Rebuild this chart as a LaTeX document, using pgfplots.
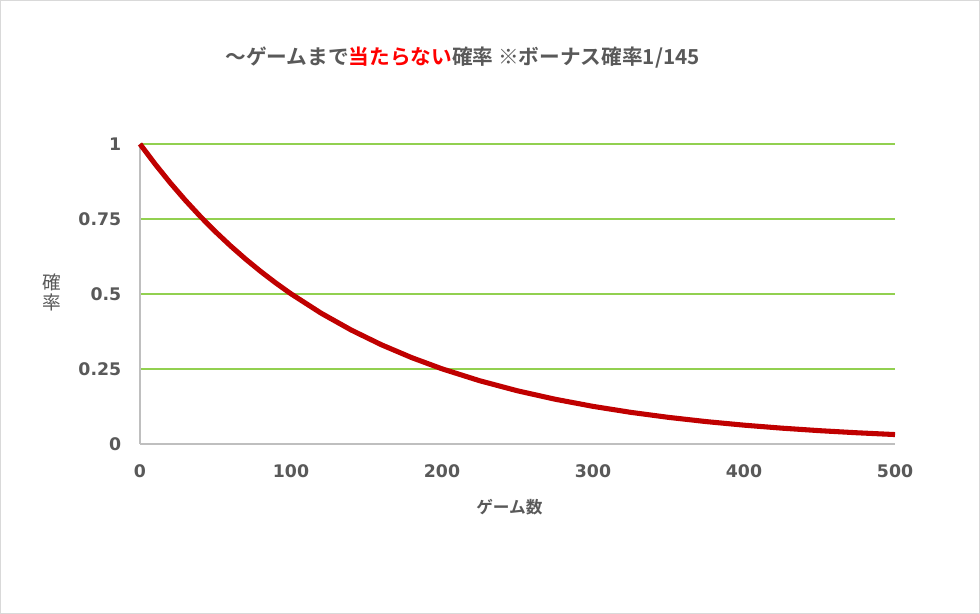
\documentclass[border=0pt]{standalone}
\usepackage{pgfplots}
\pgfplotsset{compat=1.18}
\usepackage{fontspec}
\setmainfont{DejaVu Sans}
\newfontfamily\jp{Noto Sans CJK JP}
\newfontfamily\jpb{Noto Sans CJK JP Bold}
\definecolor{txtgrey}{HTML}{595959}
\definecolor{gridgreen}{HTML}{92D050}
\definecolor{axgrey}{HTML}{BFBFBF}
\definecolor{curvered}{HTML}{C00000}
\definecolor{framegrey}{HTML}{D9D9D9}
\definecolor{hlred}{HTML}{FF0000}
\begin{document}
\begin{tikzpicture}[x=1pt,y=1pt]
\draw[framegrey,line width=0.75pt,fill=white] (0.4,0.4) rectangle (734.6,460.1);
\node[text=txtgrey,font=\jpb\fontsize{15.5}{18}\selectfont] at (347,417) {～ゲームまで\textcolor{hlred}{当たらない}確率 ※ボーナス確率1/145};
\begin{axis}[
  at={(105pt,127.5pt)}, anchor=origin,
  scale only axis, width=566.25pt, height=225pt,
  xmin=0, xmax=500, ymin=0, ymax=1,
  xtick={0,100,200,300,400,500},
  ytick={0,0.25,0.5,0.75,1},
  yticklabels={0,0.25,0.5,0.75,1},
  axis x line*=bottom, axis y line*=left,
  axis line style={axgrey,line width=1.2pt,-},
  xtick style={draw=none}, ytick style={draw=none},
  ymajorgrids, major grid style={gridgreen,line width=0.9pt},
  tick label style={text=txtgrey,font=\bfseries\fontsize{13}{15}\selectfont},
  /pgf/number format/assume math mode=true,
  xticklabel style={yshift=-12pt},
  yticklabel style={xshift=-10.5pt},
  clip=false,
]
\addplot[curvered, line width=3.8pt, line join=round, line cap=butt] coordinates {
(0,1) (10,0.93313) (20,0.87074) (30,0.81251) (40,0.75817) (50,0.70749)
(60,0.66020) (70,0.61605) (80,0.57486) (90,0.53643) (100,0.50055)
(120,0.43585) (140,0.37953) (160,0.33046) (180,0.28775) (200,0.25056)
(225,0.21077) (250,0.17727) (275,0.14911) (300,0.12542) (325,0.10549)
(350,0.08874) (375,0.07464) (400,0.06278) (425,0.05281) (450,0.04442)
(475,0.03736) (500,0.03143)
};
\end{axis}
\node[text=txtgrey,font=\jp\fontsize{14}{16}\selectfont] at (38.8,249) {確};
\node[text=txtgrey,font=\jp\fontsize{14}{16}\selectfont] at (38.8,233.5) {率};
\node[text=txtgrey,font=\jpb\fontsize{12.5}{14}\selectfont] at (382,80) {ゲーム数};
\end{tikzpicture}
\end{document}
